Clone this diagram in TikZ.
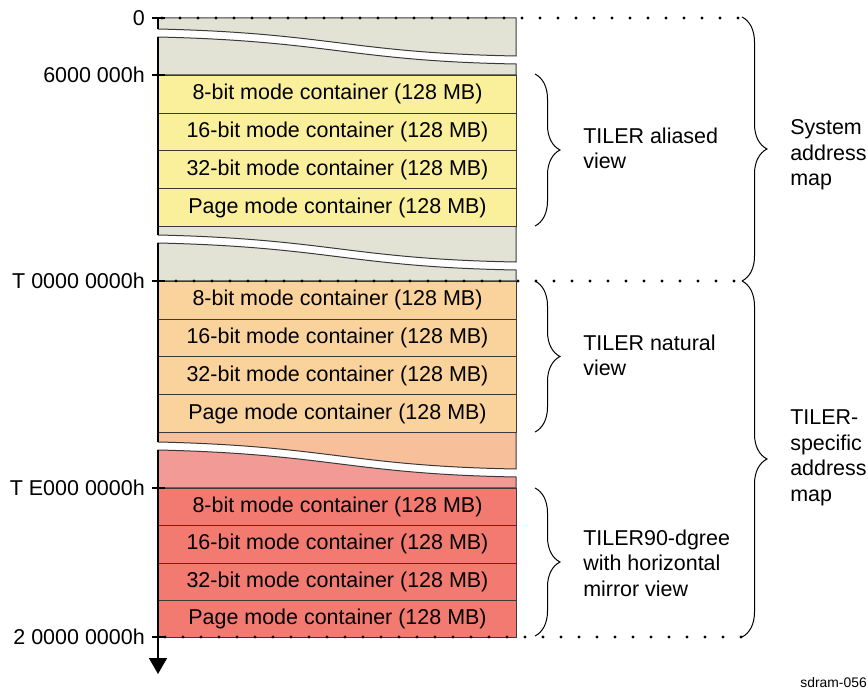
\documentclass[tikz,border=0pt]{standalone}
\usepackage{fontspec}
\setmainfont{Liberation Sans}
\usetikzlibrary{decorations.pathreplacing,arrows.meta}
\definecolor{cgrey}{HTML}{E2E3D4}
\definecolor{cyel}{HTML}{FAF09C}
\definecolor{corg}{HTML}{F9D39B}
\definecolor{cpeach}{HTML}{F7C09B}
\definecolor{cpink}{HTML}{F29B96}
\definecolor{cred}{HTML}{F27A70}
\definecolor{edge}{HTML}{3A3A3A}
\begin{document}
\begin{tikzpicture}[x=0.75pt,y=-0.75pt,
  txt/.style={font=\fontsize{16.1}{19.2}\selectfont},
  cell/.style={draw=edge, line width=0.75pt, minimum width=268.5pt, inner sep=0pt, anchor=north west, txt},
  piece/.style={draw=edge, line width=0.75pt},
  leftedge/.style={line width=1.3pt, black},
  tickmark/.style={line width=1.6pt, black},
  dots/.style={line width=2.6pt, line cap=round, dash pattern=on 0pt off 13.5pt, black},
  bracedec/.style={decorate, decoration={brace, amplitude=18.75pt}, line width=0.75pt},
  addr/.style={txt, anchor=east, inner sep=0pt},
  lab/.style={txt, anchor=north west, align=left, inner sep=0pt},
]
\useasboundingbox (0,0) rectangle (868,698);

% broken pieces
\path[piece, fill=cgrey] (158,18) -- (516,18) -- (516,56) .. controls (350,53) and (330,33) .. (158,29) -- cycle;
\path[piece, fill=cgrey] (158,37) .. controls (330,41) and (350,61) .. (516,64) -- (516,75) -- (158,75) -- cycle;
\path[piece, fill=cgrey] (158,226) -- (516,226) -- (516,262) .. controls (350,259) and (330,239) .. (158,235) -- cycle;
\path[piece, fill=cgrey] (158,243) .. controls (330,247) and (350,267) .. (516,270) -- (516,281) -- (158,281) -- cycle;
\path[piece, fill=cpeach] (158,432) -- (516,432) -- (516,469) .. controls (350,466) and (330,446) .. (158,442) -- cycle;
\path[piece, fill=cpink] (158,450) .. controls (330,454) and (350,474) .. (516,477) -- (516,488) -- (158,488) -- cycle;

% rows
\node[cell, fill=cyel, minimum height=28.31pt] (y1) at (158,75) {8-bit mode container (128 MB)};
\node[cell, fill=cyel, minimum height=28.31pt] (y2) at (158,112.75) {16-bit mode container (128 MB)};
\node[cell, fill=cyel, minimum height=28.31pt] (y3) at (158,150.5) {32-bit mode container (128 MB)};
\node[cell, fill=cyel, minimum height=28.31pt] (y4) at (158,188.25) {Page mode container (128 MB)};

\node[cell, fill=corg, minimum height=28.31pt] (o1) at (158,281) {8-bit mode container (128 MB)};
\node[cell, fill=corg, minimum height=28.31pt] (o2) at (158,318.75) {16-bit mode container (128 MB)};
\node[cell, fill=corg, minimum height=28.31pt] (o3) at (158,356.5) {32-bit mode container (128 MB)};
\node[cell, fill=corg, minimum height=28.31pt] (o4) at (158,394.25) {Page mode container (128 MB)};

\node[cell, fill=cred, minimum height=27.94pt] (r1) at (158,488) {8-bit mode container (128 MB)};
\node[cell, fill=cred, minimum height=27.94pt] (r2) at (158,525.25) {16-bit mode container (128 MB)};
\node[cell, fill=cred, minimum height=27.94pt] (r3) at (158,562.5) {32-bit mode container (128 MB)};
\node[cell, fill=cred, minimum height=27.94pt] (r4) at (158,599.75) {Page mode container (128 MB)};

% left edges / axis
\draw[leftedge] (158,18) -- (158,29);
\draw[leftedge] (158,37) -- (158,235);
\draw[leftedge] (158,243) -- (158,442);
\draw[leftedge,-{Triangle[width=13.5pt,length=12pt]}] (158,450) -- (158,674);

% ticks
\foreach \yy in {18,75,281,488,637} \draw[tickmark] (152,\yy) -- (165,\yy);

% dotted lines
\draw[dots] (162,18) -- (745,18);
\draw[dots] (158,281) -- (742,281);
\draw[dots] (165,637) -- (748,637);

% address labels
\node[addr] (a0) at (145,18) {0};
\node[addr] (a1) at (145,75) {6000 000h};
\node[addr] (a2) at (145,281) {T 0000 0000h};
\node[addr] (a3) at (145,488) {T E000 0000h};
\node[addr] (a4) at (145,637) {2 0000 0000h};

% braces
\coordinate (b1s) at (535,74);  \coordinate (b1e) at (535,226);
\coordinate (b2s) at (535,281); \coordinate (b2e) at (535,432);
\coordinate (b3s) at (535,488); \coordinate (b3e) at (535,636);
\coordinate (B1s) at (742,17);  \coordinate (B1e) at (742,281);
\coordinate (B2s) at (742,281); \coordinate (B2e) at (742,637);
\draw[bracedec] (b1s) -- (b1e);
\draw[bracedec] (b2s) -- (b2e);
\draw[bracedec] (b3s) -- (b3e);
\draw[bracedec] (B1s) -- (B1e);
\draw[bracedec] (B2s) -- (B2e);

% view labels
\node[lab] (al) at (583,127.5) {TILER aliased\\view};
\node[lab] (nat) at (583,334.5) {TILER natural\\view};
\node[lab] (rot) at (583,529.5) {TILER90-dgree\\with horizontal\\mirror view};
\node[lab] (sys) at (790,119.5) {System\\address\\map};
\node[lab] (tsp) at (790,409.5) {TILER-\\specific\\address\\map};

\node[font=\fontsize{10.4}{12}\selectfont, anchor=east, inner sep=0pt] (fig) at (867,683) {sdram-056};
\end{tikzpicture}
\end{document}
